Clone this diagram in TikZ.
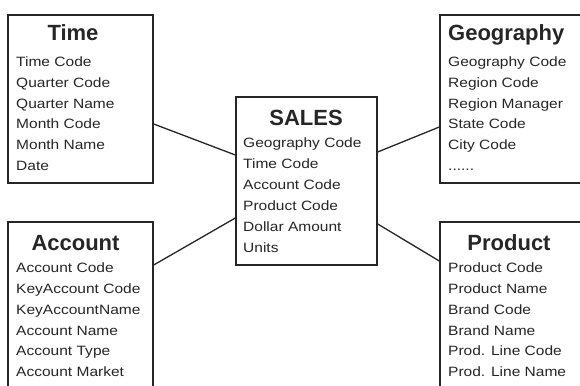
\documentclass[tikz,border=0pt]{standalone}
\usepackage{fontspec}
\setmainfont{Liberation Sans}
\newcommand\geodots{......}
\begin{document}
\begin{tikzpicture}[x=1pt,y=-1pt,
  box/.style={draw=black!85,line width=1.4pt,inner sep=0pt},
  item/.style={anchor=base west,inner sep=0pt,font=\fontsize{13.5}{16}\selectfont,text=black!85},
  ttl/.style={anchor=base,inner sep=0pt,font=\fontsize{22}{26}\selectfont\bfseries,text=black!85},
  link/.style={draw=black!85,line width=1.3pt}]
\clip (0,0) rectangle (580,385);
\fill[white] (0,0) rectangle (580,385);
% boxes
\node[box,minimum width=145pt,minimum height=168pt] (time) at (80.5,99) {};
\node[box,minimum width=150pt,minimum height=168pt] (geo) at (515,99) {};
\node[box,minimum width=141pt,minimum height=168pt] (sales) at (306.5,181) {};
\node[box,minimum width=145pt,minimum height=178pt] (acct) at (80.5,311) {};
\node[box,minimum width=150pt,minimum height=178pt] (prod) at (515,311) {};
% titles
\node[ttl] (timeT) at (73,41) {Time};
\node[ttl,anchor=base west] (geoT) at (448,41) {Geography};
\node[ttl] (salesT) at (306,125) {SALES};
\node[ttl] (acctT) at (75.5,250) {Account};
\node[ttl] (prodT) at (509,250) {Product};
% items
\foreach \t [count=\i] in {Time Code,Quarter Code,Quarter Name,Month Code,Month Name,Date}
  \node[item] (time-\i) at ({16},{66.6+20.7*(\i-1)}) {\scalebox{1.15}[1]{\t}};
\foreach \t [count=\i] in {Geography Code,Region Code,Region Manager,State Code,City Code,\geodots}
  \node[item] (geo-\i) at ({448},{66.6+20.7*(\i-1)}) {\scalebox{1.15}[1]{\t}};
\foreach \t [count=\i] in {Geography Code,Time Code,Account Code,Product Code,Dollar Amount,Units}
  \node[item] (sales-\i) at ({243},{147.6+21*(\i-1)}) {\scalebox{1.15}[1]{\t}};
\foreach \t [count=\i] in {Account Code,KeyAccount Code,KeyAccountName,Account Name,Account Type,Account Market}
  \node[item] (acct-\i) at ({16},{272.6+20.8*(\i-1)}) {\scalebox{1.15}[1]{\t}};
\foreach \t [count=\i] in {Product Code,Product Name,Brand Code,Brand Name,Prod. Line Code,Prod. Line Name}
  \node[item] (prod-\i) at ({448},{272.6+20.8*(\i-1)}) {\scalebox{1.15}[1]{\t}};
% connectors
\draw[link] ([yshift=-25pt]time.east) -- ([yshift=26pt]sales.west);
\draw[link] ([yshift=46pt]acct.east) -- ([yshift=-37pt]sales.west);
\draw[link] ([yshift=29pt]sales.east) -- ([yshift=-28pt]geo.west);
\draw[link] ([yshift=-43pt]sales.east) -- ([yshift=50pt]prod.west);
\end{tikzpicture}
\end{document}
